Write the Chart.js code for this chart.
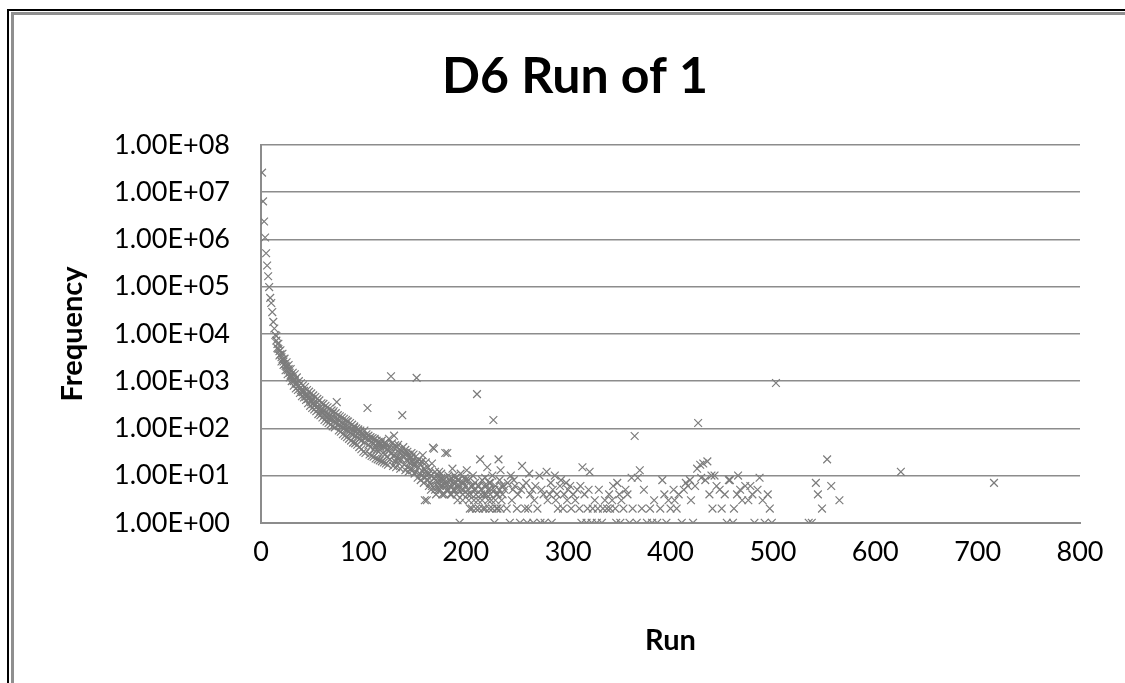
<!DOCTYPE html>
<html>
<head>
<meta charset="utf-8">
<script src="https://cdn.jsdelivr.net/npm/chart.js@4.4.1/dist/chart.umd.min.js"></script>
<style>
  html, body { margin: 0; padding: 0; background: #fff; }
  #wrap { position: relative; width: 1125px; height: 683px; overflow: hidden; }
  #chart { position: absolute; left: 0; top: 0; }
  .frame1 { position: absolute; left: 7px; top: 9px; width: 2000px; height: 2000px;
            border-left: 2px solid #000; border-top: 2px solid #000; pointer-events: none; }
  .frame2 { position: absolute; left: 11px; top: 12px; width: 2000px; height: 2000px;
            border-left: 3px solid #8f8f8f; border-top: 3px solid #8f8f8f; pointer-events: none; }
</style>
</head>
<body>
<div id="wrap">
  <canvas id="chart" width="1125" height="683"></canvas>
  <div class="frame1"></div>
  <div class="frame2"></div>
</div>
<script>
// Run length (x) and how often it occurred (y)
const runs = [
  1, 2, 3, 4, 5, 6, 7, 8, 9, 10, 11, 12, 13, 14, 15, 16, 17, 18, 19, 20,
  21, 22, 23, 24, 25, 26, 27, 28, 29, 30, 31, 32, 33, 34, 35, 36, 37, 38, 39, 40,
  41, 42, 43, 44, 45, 46, 47, 48, 49, 50, 51, 52, 53, 54, 55, 56, 57, 58, 59, 60,
  61, 62, 63, 64, 65, 66, 67, 68, 69, 70, 71, 72, 73, 74, 75, 76, 77, 78, 79, 80,
  81, 82, 83, 84, 85, 86, 87, 88, 89, 90, 91, 92, 93, 94, 95, 96, 97, 98, 99, 100,
  101, 102, 103, 104, 105, 106, 107, 108, 109, 110, 111, 112, 113, 114, 115, 116, 117, 118, 119, 120,
  121, 122, 123, 124, 125, 126, 127, 128, 129, 130, 131, 132, 133, 134, 135, 136, 137, 138, 139, 140,
  141, 142, 143, 144, 145, 146, 147, 148, 149, 150, 151, 152, 153, 154, 155, 156, 157, 158, 159, 160,
  161, 162, 163, 164, 165, 166, 167, 168, 169, 170, 171, 172, 173, 174, 175, 176, 177, 178, 179, 180,
  181, 182, 183, 184, 185, 186, 187, 188, 189, 190, 191, 192, 193, 194, 195, 196, 197, 198, 199, 200,
  201, 202, 203, 204, 205, 206, 207, 208, 209, 210, 211, 212, 213, 214, 215, 216, 217, 218, 219, 220,
  221, 222, 223, 224, 225, 226, 227, 228, 229, 230, 231, 232, 233, 234, 235, 236, 237, 238, 240, 241,
  243, 244, 245, 246, 247, 248, 250, 251, 253, 254, 255, 256, 258, 259, 260, 261, 262, 263, 265, 266,
  267, 268, 270, 272, 273, 274, 276, 277, 279, 280, 282, 283, 284, 285, 287, 288, 289, 290, 292, 293,
  295, 296, 298, 299, 300, 302, 303, 305, 307, 309, 311, 312, 313, 314, 316, 318, 319, 320, 321, 323,
  324, 326, 328, 329, 330, 333, 334, 336, 338, 340, 341, 343, 344, 346, 347, 348, 350, 351, 352, 354,
  356, 358, 360, 362, 363, 365, 367, 368, 370, 372, 374, 377, 380, 382, 384, 387, 390, 392, 394, 396,
  398, 400, 403, 404, 406, 408, 411, 413, 415, 417, 419, 420, 422, 424, 426, 427, 429, 430, 432, 434,
  436, 438, 440, 441, 443, 445, 448, 450, 453, 455, 457, 458, 461, 462, 465, 466, 468, 470, 473, 476,
  478, 480, 482, 485, 487, 490, 492, 495, 497, 499, 503, 535, 538, 542, 544, 548, 553, 557, 565, 625,
  716
];
const freqs = [
  26000000, 6400000, 2400000, 1100000, 510000, 280000, 166000, 98000, 58000, 45000,
  29000, 18000, 13000, 9500, 7200, 6100, 4800, 4300, 3700, 3200,
  2900, 2600, 2300, 2100, 2000, 1700, 1800, 1500, 1350, 1250,
  1150, 1000, 1050, 900, 880, 760, 820, 700, 640, 600,
  580, 620, 520, 470, 500, 420, 450, 390, 360, 410,
  330, 300, 320, 280, 350, 250, 270, 230, 260, 210,
  240, 190, 220, 175, 200, 160, 185, 150, 170, 210,
  140, 165, 130, 360, 155, 120, 145, 110, 130, 125,
  100, 115, 95, 140, 90, 105, 80, 98, 75, 92,
  110, 70, 85, 65, 78, 60, 90, 55, 72, 68,
  50, 62, 66, 270, 45, 58, 40, 52, 48, 36,
  60, 42, 35, 50, 32, 44, 38, 55, 30, 40,
  28, 47, 25, 36, 33, 22, 1270, 30, 26, 38,
  20, 28, 24, 45, 18, 30, 22, 190, 26, 17,
  35, 21, 15, 28, 19, 14, 24, 13, 18, 16,
  12, 1170, 20, 15, 11, 17, 10, 27, 14, 9,
  12, 3, 8, 11, 7, 10, 6, 39, 9, 5,
  8, 6, 7, 12, 5, 9, 6, 8, 4, 30,
  7, 5, 10, 6, 8, 4, 14, 7, 5, 9,
  6, 3, 8, 1, 11, 5, 4, 7, 9, 6,
  13, 4, 8, 2, 6, 2, 10, 5, 7, 4,
  530, 3, 6, 22, 5, 8, 2, 4, 9, 6,
  15, 3, 7, 4, 5, 10, 150, 1, 6, 2,
  4, 22, 8, 13, 3, 4, 6, 5, 2, 7,
  1, 10, 3, 5, 8, 6, 2, 4, 1, 5,
  16, 6, 2, 7, 1, 2, 11, 4, 5, 1,
  3, 6, 2, 10, 1, 5, 4, 1, 12, 3,
  4, 7, 1, 5, 10, 3, 4, 2, 6, 8,
  2, 4, 7, 3, 5, 6, 2, 4, 3, 5,
  2, 6, 1, 15, 4, 1, 2, 5, 12, 1,
  2, 3, 1, 2, 5, 1, 2, 3, 2, 4,
  2, 3, 6, 2, 1, 7, 4, 1, 3, 2,
  5, 4, 1, 9, 2, 69, 1, 9, 13, 2,
  5, 1, 2, 1, 3, 1, 2, 8, 4, 1,
  3, 2, 5, 3, 2, 4, 1, 5, 7, 6,
  8, 3, 1, 6, 14, 130, 17, 9, 18, 8,
  20, 4, 10, 2, 10, 6, 5, 2, 4, 1,
  8, 8, 1, 2, 4, 10, 5, 3, 6, 3,
  6, 4, 1, 5, 9, 3, 1, 4, 2, 1,
  910, 1, 1, 7, 4, 2, 22, 6, 3, 12,
  7
];

// Second batch of marks that widen the band along the curve
const runsBand = [
  15, 16, 17, 18, 19, 20, 21, 22, 23, 24, 25, 26, 27, 28, 29, 30, 31, 32, 33, 34,
  35, 36, 37, 38, 39, 40, 41, 42, 43, 44, 45, 46, 47, 48, 49, 50, 51, 52, 53, 54,
  55, 56, 57, 58, 59, 60, 61, 62, 63, 64, 65, 66, 67, 68, 69, 70, 71, 72, 73, 75,
  76, 77, 78, 79, 80, 81, 82, 83, 84, 85, 86, 87, 88, 89, 90, 91, 92, 93, 94, 95,
  96, 97, 98, 99, 100, 101, 102, 103, 105, 106, 107, 108, 109, 110, 111, 112, 113, 114, 115, 116,
  117, 118, 119, 120, 121, 122, 123, 124, 125, 126, 128, 129, 130, 131, 132, 133, 134, 135, 136, 137,
  139, 140, 141, 142, 143, 144, 145, 146, 147, 148, 149, 150, 151, 153, 154, 155, 156, 157, 158, 159,
  160, 161, 162, 163, 164, 165, 166, 167, 169, 170, 171, 172, 173, 174, 175, 176, 177, 178, 179, 181,
  182, 183, 184, 185, 186, 187, 188, 189, 190, 191, 192, 193, 194, 196, 197, 198, 200, 202, 203, 205,
  207, 208, 209, 210, 212, 213, 215, 216, 218, 219, 220, 222, 223, 224, 225, 226, 228, 229, 230, 231,
  233, 234, 235
];
const freqsBand = [
  9000, 5000, 6200, 3500, 4500, 2600, 3800, 2200, 3000, 1700, 2500, 1400, 2200, 1200, 1800, 1000, 1500, 800, 1400, 700,
  1200, 650, 1000, 560, 900, 480, 820, 450, 750, 400, 650, 340, 600, 300, 550, 270, 500, 250, 460, 230,
  420, 200, 390, 190, 340, 170, 330, 150, 300, 140, 280, 130, 260, 120, 240, 110, 230, 105, 210, 190,
  90, 180, 85, 170, 75, 160, 70, 150, 65, 140, 60, 130, 55, 120, 50, 105, 48, 100, 45, 95,
  40, 85, 36, 80, 32, 90, 30, 75, 70, 28, 65, 26, 62, 25, 58, 23, 55, 22, 52, 21,
  48, 20, 45, 19, 50, 18, 42, 17, 60, 40, 48, 16, 70, 44, 15, 40, 22, 36, 14, 33,
  40, 30, 13, 28, 32, 12, 26, 24, 30, 20, 28, 11, 25, 9, 22, 18, 8, 20, 12, 7,
  3, 19, 10, 15, 6, 13, 5, 18, 37, 12, 4, 10, 5, 8, 6, 11, 4, 9, 7, 6,
  30, 5, 8, 4, 9, 6, 5, 10, 7, 4, 8, 5, 6, 7, 3, 5, 8, 5, 3, 4,
  6, 3, 5, 2, 6, 2, 4, 3, 6, 2, 4, 5, 2, 7, 3, 2, 5, 3, 4, 2,
  5, 2, 6
];

// Axis ticks
const yTickValues = [1, 10, 100, 1000, 10000, 100000, 1000000, 10000000, 100000000];
const yTickLabels = ['1.00E+00', '1.00E+01', '1.00E+02', '1.00E+03', '1.00E+04',
                     '1.00E+05', '1.00E+06', '1.00E+07', '1.00E+08'];
const xMin = 0, xMax = 800, xStep = 100;

const points = runs.map((r, i) => ({ x: r, y: freqs[i] }))
  .concat(runsBand.map((r, i) => ({ x: r, y: freqsBand[i] })));

const FONT = 'Lato, "Open Sans", sans-serif';
const GRID = '#8c8c8c';

new Chart(document.getElementById('chart'), {
  type: 'scatter',
  data: {
    datasets: [{
      label: 'Frequency',
      data: points,
      pointStyle: 'crossRot',
      pointRadius: 5.5,
      pointHoverRadius: 5.5,
      borderColor: '#7c7c7c',
      backgroundColor: '#7c7c7c',
      borderWidth: 1.2
    }]
  },
  options: {
    responsive: false,
    animation: false,
    devicePixelRatio: 1,
    layout: { padding: { left: 70, right: 45, top: 10, bottom: 17 } },
    plugins: {
      legend: { display: false },
      tooltip: { enabled: false },
      title: {
        display: true,
        text: 'D6 Run of 1',
        color: '#000',
        font: { family: FONT, size: 50, weight: 'bold' },
        padding: { top: 37, bottom: 38 }
      }
    },
    scales: {
      x: {
        type: 'linear',
        min: xMin,
        max: xMax,
        ticks: {
          stepSize: xStep,
          color: '#000',
          padding: 13,
          maxRotation: 0,
          font: { family: FONT, size: 27 }
        },
        grid: { display: false, drawTicks: false },
        border: { display: true, color: GRID, width: 2 },
        title: {
          display: true,
          text: 'Run',
          color: '#000',
          font: { family: FONT, size: 29, weight: 'bold' },
          padding: { top: 42, bottom: 8 }
        }
      },
      y: {
        type: 'logarithmic',
        min: 1,
        max: 100000000,
        afterBuildTicks: (scale) => {
          scale.ticks = yTickValues.map(v => ({ value: v }));
        },
        afterFit: (scale) => { scale.width = 191; },
        ticks: {
          color: '#000',
          padding: 31,
          font: { family: FONT, size: 27 },
          callback: (value) => {
            const i = yTickValues.indexOf(value);
            return i >= 0 ? yTickLabels[i] : '';
          }
        },
        grid: { color: GRID, lineWidth: 1.5, drawTicks: false },
        border: { display: true, color: GRID, width: 2 },
        title: {
          display: true,
          text: 'Frequency',
          color: '#000',
          font: { family: FONT, size: 29, weight: 'bold' },
          padding: { top: -15, bottom: 0 }
        }
      }
    }
  }
});
</script>
</body>
</html>
